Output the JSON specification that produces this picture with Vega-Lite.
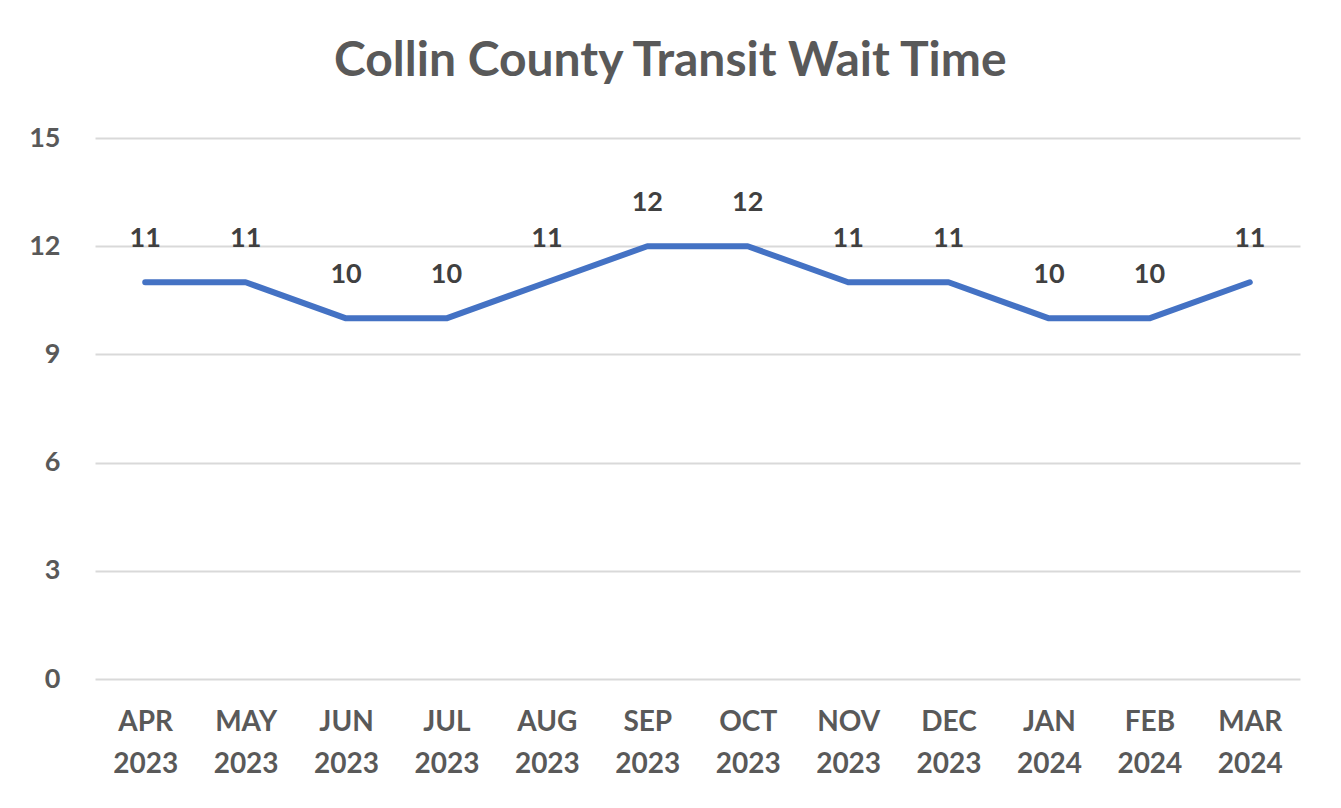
{
  "$schema": "https://vega.github.io/schema/vega-lite/v6.json",
  "autosize": "none",
  "width": 1205,
  "height": 541,
  "padding": {"left": 95, "top": 138, "right": 41, "bottom": 129},
  "background": "white",
  "config": {
    "view": {"stroke": null},
    "font": "Lato"
  },
  "title": {
    "text": "Collin County Transit Wait Time",
    "font": "Lato",
    "fontSize": 48,
    "fontWeight": "bold",
    "color": "#595959",
    "anchor": "middle",
    "frame": "bounds",
    "baseline": "alphabetic",
    "offset": 0,
    "dx": 6
  },
  "data": {
    "values": [
      {"month": "APR 2023", "wait": 11},
      {"month": "MAY 2023", "wait": 11},
      {"month": "JUN 2023", "wait": 10},
      {"month": "JUL 2023", "wait": 10},
      {"month": "AUG 2023", "wait": 11},
      {"month": "SEP 2023", "wait": 12},
      {"month": "OCT 2023", "wait": 12},
      {"month": "NOV 2023", "wait": 11},
      {"month": "DEC 2023", "wait": 11},
      {"month": "JAN 2024", "wait": 10},
      {"month": "FEB 2024", "wait": 10},
      {"month": "MAR 2024", "wait": 11}
    ]
  },
  "encoding": {
    "x": {
      "field": "month",
      "type": "ordinal",
      "sort": null,
      "scale": {"type": "point", "padding": 0.5},
      "axis": {
        "title": null,
        "domain": false,
        "ticks": false,
        "grid": false,
        "labelAngle": 0,
        "labelExpr": "split(datum.label, ' ')",
        "labelFont": "Lato",
        "labelFontSize": 28,
        "labelFontWeight": "bold",
        "labelColor": "#595959",
        "labelPadding": 29,
        "labelLineHeight": 42,
        "labelBaseline": "top"
      }
    },
    "y": {
      "field": "wait",
      "type": "quantitative",
      "scale": {"domain": [0, 15], "nice": false},
      "axis": {
        "title": null,
        "values": [0, 3, 6, 9, 12, 15],
        "domain": false,
        "ticks": false,
        "gridColor": "#d9d9d9",
        "gridWidth": 2,
        "labelFont": "Lato",
        "labelFontSize": 27,
        "labelFontWeight": "bold",
        "labelColor": "#595959",
        "labelPadding": 35
      }
    }
  },
  "layer": [
    {
      "mark": {"type": "line", "color": "#4472C4", "strokeWidth": 6, "strokeCap": "round", "strokeJoin": "round"}
    },
    {
      "mark": {"type": "text", "dy": -43, "font": "Lato", "fontSize": 27, "fontWeight": "bold", "color": "#404040"},
      "encoding": {"text": {"field": "wait", "type": "quantitative"}}
    }
  ]
}
